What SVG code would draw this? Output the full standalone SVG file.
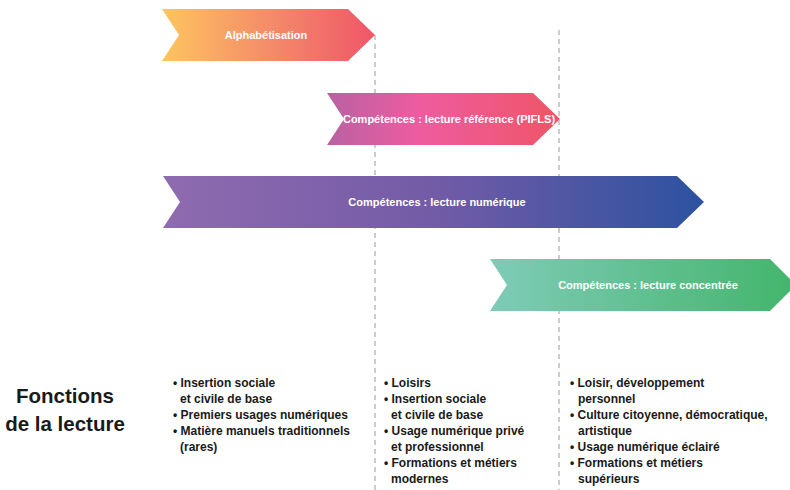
<svg xmlns="http://www.w3.org/2000/svg" width="790" height="490" viewBox="0 0 790 490">
<defs>
<linearGradient id="g1" x1="0" x2="1" y1="0" y2="0"><stop offset="0" stop-color="#fec55f"/><stop offset="0.5" stop-color="#f48c69"/><stop offset="1" stop-color="#ef5668"/></linearGradient>
<linearGradient id="g2" x1="0" x2="1" y1="0" y2="0"><stop offset="0" stop-color="#b961a3"/><stop offset="0.4" stop-color="#ee5c9f"/><stop offset="1" stop-color="#ef5566"/></linearGradient>
<linearGradient id="g3" x1="0" x2="1" y1="0" y2="0"><stop offset="0" stop-color="#8f6baf"/><stop offset="0.5" stop-color="#735ba7"/><stop offset="1" stop-color="#2c52a0"/></linearGradient>
<linearGradient id="g4" x1="0" x2="1" y1="0" y2="0"><stop offset="0" stop-color="#7fcbb7"/><stop offset="1" stop-color="#43b56c"/></linearGradient>
<style>
.dash{stroke:#9a9a9a;stroke-width:1;stroke-dasharray:5,4;fill:none}
.lbl{font-family:"Liberation Sans",Arial,sans-serif;font-weight:bold;font-size:11px;fill:#ffffff;text-anchor:middle}
.bul{font-family:"Liberation Sans",Arial,sans-serif;font-weight:bold;font-size:12px;fill:#1a1a1a}
.ttl{font-family:"Liberation Sans",Arial,sans-serif;font-weight:bold;font-size:20.5px;fill:#1a1a1a;text-anchor:middle}
</style>
</defs>
<rect width="790" height="490" fill="#ffffff"/>
<g id="connectors">
<line class="dash" x1="375" y1="35" x2="375" y2="490"/>
<line class="dash" x1="559" y1="30" x2="559" y2="490"/>
</g>
<g id="alphabetisation">
<polygon points="162,9 348,9 375,35 348,61 162,61 179,35" fill="url(#g1)"/>
<text class="lbl" x="266" y="39">Alphabétisation</text>
</g>
<g id="lecture-reference">
<polygon points="327,93 533,93 560,119 533,145 327,145 344,119" fill="url(#g2)"/>
<text class="lbl" x="449" y="123">Compétences : lecture référence (PIFLS)</text>
</g>
<g id="lecture-numerique">
<polygon points="163,176 677,176 704,202 677,228 163,228 180,202" fill="url(#g3)"/>
<text class="lbl" x="437" y="206">Compétences : lecture numérique</text>
</g>
<g id="lecture-concentree">
<polygon points="490,259 770,259 796,285 770,311 490,311 507,285" fill="url(#g4)"/>
<text class="lbl" x="648" y="289">Compétences : lecture concentrée</text>
</g>
<g id="fonctions">
<text class="ttl" x="65" y="403">Fonctions</text>
<text class="ttl" x="65" y="431">de la lecture</text>
</g>
<g id="col1">
<text class="bul" x="173" y="387">• Insertion sociale</text>
<text class="bul" x="180" y="403">et civile de base</text>
<text class="bul" x="173" y="419">• Premiers usages numériques</text>
<text class="bul" x="173" y="435">• Matière manuels traditionnels</text>
<text class="bul" x="180" y="451">(rares)</text>
</g>
<g id="col2">
<text class="bul" x="384" y="387">• Loisirs</text>
<text class="bul" x="384" y="403">• Insertion sociale</text>
<text class="bul" x="391" y="419">et civile de base</text>
<text class="bul" x="384" y="435">• Usage numérique privé</text>
<text class="bul" x="391" y="451">et professionnel</text>
<text class="bul" x="384" y="467">• Formations et métiers</text>
<text class="bul" x="391" y="483">modernes</text>
</g>
<g id="col3">
<text class="bul" x="570" y="387">• Loisir, développement</text>
<text class="bul" x="578" y="403">personnel</text>
<text class="bul" x="570" y="419">• Culture citoyenne, démocratique,</text>
<text class="bul" x="578" y="435">artistique</text>
<text class="bul" x="570" y="451">• Usage numérique éclairé</text>
<text class="bul" x="570" y="467">• Formations et métiers</text>
<text class="bul" x="578" y="483">supérieurs</text>
</g>
</svg>
